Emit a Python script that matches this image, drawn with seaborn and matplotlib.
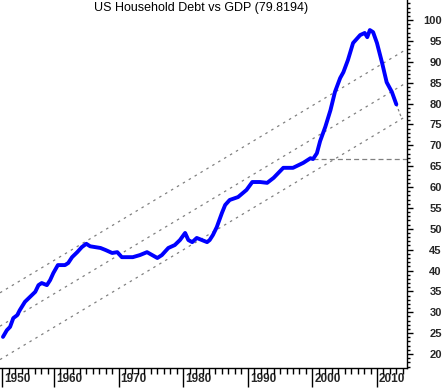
import numpy as np
import matplotlib
matplotlib.use("Agg")
import matplotlib.pyplot as plt
import matplotlib.transforms as mtransforms
from matplotlib.ticker import FixedLocator, MultipleLocator
import seaborn as sns

# -------------------------------
# Data
# -------------------------------
years = [1952.1, 1952.7, 1953.2, 1953.7, 1954.3, 1954.7, 1955.5, 1956.3, 1957.1, 1957.6,
         1958.1, 1958.9, 1959.4, 1959.9, 1960.6, 1961.7, 1962.2, 1962.8, 1963.6, 1964.3,
         1965.0, 1965.6, 1966.4, 1967.2, 1968.0, 1969.0, 1969.8, 1970.5, 1971.3, 1972.2,
         1973.3, 1974.4, 1975.2, 1976.0, 1976.7, 1977.7, 1978.7, 1979.5, 1980.3, 1980.8,
         1981.4, 1982.1, 1982.9, 1983.7, 1984.1, 1984.6, 1985.2, 1986.0, 1986.5, 1987.2,
         1988.5, 1989.8, 1990.7, 1991.9, 1993.0, 1994.0, 1995.5, 1997.0, 1998.6, 1999.7,
         2000.1, 2000.7, 2001.2, 2002.0, 2002.8, 2003.5, 2004.3, 2004.8, 2005.5, 2006.3,
         2007.4, 2008.1, 2008.5, 2008.9, 2009.4, 2010.0, 2010.8, 2011.5, 2012.3, 2013.0]
debt_gdp = [24.1, 25.7, 26.5, 28.6, 29.3, 30.5, 32.5, 33.7, 34.9, 36.5,
            37.0, 36.5, 37.7, 39.4, 41.3, 41.3, 41.8, 43.2, 44.4, 45.6,
            46.4, 45.8, 45.6, 45.4, 44.9, 44.2, 44.4, 43.2, 43.2, 43.2,
            43.7, 44.4, 43.7, 43.0, 43.7, 45.4, 46.1, 47.3, 49.0, 47.3,
            46.8, 47.8, 47.3, 46.8, 47.3, 48.5, 50.4, 53.8, 55.7, 56.9,
            57.6, 59.3, 61.2, 61.2, 61.0, 62.2, 64.6, 64.6, 65.8, 66.9,
            66.7, 68.1, 71.0, 74.4, 78.4, 82.8, 86.1, 87.5, 90.4, 94.5,
            96.4, 96.9, 95.9, 97.6, 97.1, 94.5, 89.7, 85.1, 82.8, 79.8]
last_value = 79.8194

# trend channel: centre line at 1952, slope per year, half width
channel_start = 1952.0
channel_mid0 = 27.0
channel_slope = 0.927
channel_width = 8.0
level_value = 66.7
level_year = 2000.1

tick_years = [1952, 1960, 1970, 1980, 1990, 2000, 2010]
tick_labels = ["1950", "1960", "1970", "1980", "1990", "2000", "2010"]

# -------------------------------
# Figure
# -------------------------------
sns.set_style("white")
plt.rcParams['font.family'] = ['Liberation Sans', 'DejaVu Sans']

fig = plt.figure(figsize=(4.43, 3.88), dpi=100)
ax = fig.add_axes([0.0, 1 - 368 / 388, 407 / 443, 368 / 388])

x0, x1 = 1951.64, 2014.65
ax.set_xlim(x0, x1)
ax.set_ylim(16.65, 104.8)

# channel lines
xs = np.array([x0, x1])
mid = channel_mid0 + channel_slope * (xs - channel_start)
for off in (-channel_width, 0, channel_width):
    ax.plot(xs, mid + off, color="#808080", lw=0.9, dashes=(2, 3.5))

# level line
ax.plot([level_year, x1], [level_value, level_value], color="#808080", lw=0.9, dashes=(4, 2.5))

# connector from last point down to lower channel
x_meet = x1 - 0.8
low_end = channel_mid0 + channel_slope * (x_meet - channel_start) - channel_width
ax.plot([years[-1], x_meet], [debt_gdp[-1], low_end], color="#808080", lw=0.9, dashes=(2, 2))

sns.lineplot(x=years, y=debt_gdp, color="#0000ff", linewidth=2.8, ax=ax,
             estimator=None, sort=False)

ax.text(0.495, 0.995, f"US Household Debt vs GDP ({last_value})", transform=ax.transAxes,
        ha="center", va="top", fontsize=9, color="black")

# spines
for s in ("left", "top"):
    ax.spines[s].set_visible(False)
for s in ("right", "bottom"):
    ax.spines[s].set_color("black")
    ax.spines[s].set_linewidth(1.0)

# y axis on the right
ax.yaxis.tick_right()
ax.set_yticks(np.arange(20, 101, 5))
ax.yaxis.set_minor_locator(MultipleLocator(1))
ax.tick_params(axis="y", which="major", direction="out", length=4, width=1, color="black",
               labelsize=8, pad=21, right=True, left=False)
ax.tick_params(axis="y", which="minor", direction="out", length=2.5, width=1, color="black",
               right=True, left=False)
for lab in ax.get_yticklabels():
    lab.set_ha("right")
    lab.set_fontweight("bold")

# x axis
ax.xaxis.set_major_locator(FixedLocator(tick_years))
ax.xaxis.set_minor_locator(FixedLocator(list(range(1953, 2015))))
ax.set_xticklabels(tick_labels)
ax.tick_params(axis="x", which="major", direction="out", length=14, width=1, color="black",
               labelsize=8.5, pad=-10.5, bottom=True)
ax.tick_params(axis="x", which="minor", direction="out", length=4.5, width=1, color="black",
               bottom=True)
shift = mtransforms.ScaledTranslation(2 / 100, 0, fig.dpi_scale_trans)
for lab in ax.get_xticklabels():
    lab.set_ha("left")
    lab.set_fontweight("bold")
    lab.set_transform(lab.get_transform() + shift)

ax.set_xlabel("")
ax.set_ylabel("")
ax.grid(False)

fig.savefig("out.png", dpi=100)
